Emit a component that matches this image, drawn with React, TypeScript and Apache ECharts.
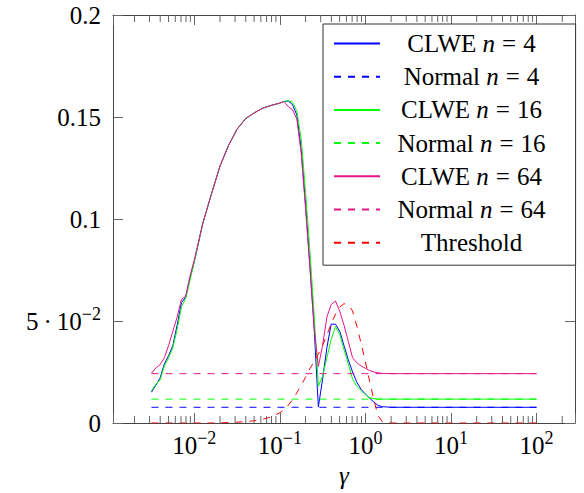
import React, { useEffect, useRef } from 'react';
import * as echarts from 'echarts';

const gamma = [
  0.00316, 0.00355, 0.00398, 0.00447, 0.00501, 0.00562, 0.00631, 0.00708, 0.00794, 0.00891,
  0.01, 0.0126, 0.0158, 0.02, 0.0251, 0.0316, 0.0398, 0.0501, 0.0631, 0.0794,
  0.1, 0.112, 0.126, 0.141, 0.158, 0.178, 0.2, 0.224, 0.251, 0.282,
  0.316, 0.355, 0.398, 0.447, 0.501, 0.562, 0.631, 0.708, 0.794, 0.891,
  1, 1.12, 1.26, 1.41, 1.58, 2, 3.16, 10, 31.6, 100,
];

const clwe4 = [
  0.0151, 0.0185, 0.022, 0.029, 0.033, 0.038, 0.048, 0.059, 0.0618, 0.071,
  0.079, 0.098, 0.112, 0.126, 0.136, 0.144, 0.1492, 0.152, 0.1543, 0.1557,
  0.1568, 0.1576, 0.1578, 0.156, 0.151, 0.134, 0.107, 0.078, 0.048, 0.0078,
  0.0215, 0.037, 0.0485, 0.0484, 0.045, 0.038, 0.031, 0.025, 0.02, 0.0165,
  0.0142, 0.0122, 0.0102, 0.0086, 0.008, 0.0077, 0.0077, 0.0077, 0.0077, 0.0077,
];

const clwe16 = [
  0.0158, 0.019, 0.021, 0.028, 0.032, 0.037, 0.046, 0.057, 0.061, 0.07,
  0.079, 0.098, 0.112, 0.126, 0.136, 0.144, 0.1492, 0.152, 0.1543, 0.1557,
  0.1568, 0.1576, 0.158, 0.1572, 0.153, 0.139, 0.113, 0.085, 0.054, 0.018,
  0.023, 0.032, 0.041, 0.0472, 0.0435, 0.036, 0.029, 0.0215, 0.018, 0.016,
  0.0138, 0.0124, 0.0119, 0.0117, 0.0117, 0.0117, 0.0117, 0.0117, 0.0117, 0.0117,
];

const clwe64 = [
  0.0244, 0.027, 0.0286, 0.032, 0.038, 0.045, 0.052, 0.0606, 0.0622, 0.072,
  0.08, 0.098, 0.112, 0.126, 0.136, 0.144, 0.1492, 0.152, 0.1543, 0.1557,
  0.1568, 0.1576, 0.155, 0.1535, 0.149, 0.132, 0.105, 0.077, 0.047, 0.0277,
  0.038, 0.052, 0.058, 0.0598, 0.0548, 0.048, 0.04, 0.032, 0.0295, 0.028,
  0.0268, 0.0257, 0.025, 0.0246, 0.0243, 0.0242, 0.0242, 0.0242, 0.0242, 0.0242,
];

const threshold = [
  0, 0, 0, 0, 0, 0, 0, 0, 0, 0,
  0, 0, 0, 0.0001, 0.0002, 0.0004, 0.0007, 0.0011, 0.0018, 0.003,
  0.005, 0.0065, 0.0088, 0.0115, 0.0148, 0.0185, 0.0225, 0.0265, 0.03, 0.0338,
  0.038, 0.0432, 0.0485, 0.0533, 0.0568, 0.0585, 0.0578, 0.055, 0.0475, 0.039,
  0.03, 0.0205, 0.011, 0.0035, 0.0006, 0, 0, 0, 0, 0,
];

const normal4 = 0.0077;
const normal16 = 0.0117;
const normal64 = 0.0242;

const xMinorTicks = [
  0.002, 0.003, 0.004, 0.005, 0.006, 0.007, 0.008, 0.009,
  0.02, 0.03, 0.04, 0.05, 0.06, 0.07, 0.08, 0.09,
  0.2, 0.3, 0.4, 0.5, 0.6, 0.7, 0.8, 0.9,
  2, 3, 4, 5, 6, 7, 8, 9,
  20, 30, 40, 50, 60, 70, 80, 90,
  200,
];

const yTickLabels: Record<string, string> = {
  '0': '{b|0}',
  '0.05': '{b|5}{d|·}{b|10}{s|−2}',
  '0.1': '{b|0.1}',
  '0.15': '{b|0.15}',
  '0.2': '{b|0.2}',
};

const seriesNames = [
  'CLWE n = 4',
  'Normal n = 4',
  'CLWE n = 16',
  'Normal n = 16',
  'CLWE n = 64',
  'Normal n = 64',
  'Threshold',
];

const FONT = "'Liberation Serif', 'DejaVu Serif', serif";
const BLUE = '#0000ff';
const GREEN = '#00ff00';
const MAGENTA = '#e6168a';
const RED = '#ff0000';
const AXIS = '#444';
const TICK = '#666';

const X_MIN = 0.001122;
const X_MAX = 281.8;

export default function App() {
  const ref = useRef<HTMLDivElement>(null);

  useEffect(() => {
    if (!ref.current) return;
    const chart = echarts.init(ref.current, undefined, { renderer: 'svg' });

    const pairs = (vals: number[]) => gamma.map((g, i) => [g, vals[i]]);
    const flat = (v: number) => gamma.map((g) => [g, v]);

    const line = (name: string, data: number[][], color: string, dashed: boolean, z: number) => ({
      type: 'line',
      name,
      data,
      symbol: 'none',
      showSymbol: false,
      silent: true,
      z,
      itemStyle: { color },
      lineStyle: { color, width: 1, type: dashed ? [7, 7] : 'solid' },
    });

    const richBase = {
      b: { fontFamily: FONT, fontSize: 25, color: '#000', lineHeight: 32 },
      d: { fontFamily: FONT, fontSize: 25, color: '#000', lineHeight: 32, padding: [0, 5, 0, 5] },
      s: { fontFamily: FONT, fontSize: 18, color: '#000', lineHeight: 18, verticalAlign: 'top' },
    };

    const legendRich = {
      t: { fontFamily: FONT, fontSize: 25, color: '#000', lineHeight: 24, align: 'center' },
      i: { fontFamily: FONT, fontSize: 25, fontStyle: 'italic', color: '#000', lineHeight: 24, align: 'center' },
      e: { fontFamily: FONT, fontSize: 25, color: '#000', lineHeight: 24, align: 'center', padding: [0, 7, 0, 7] },
    };

    const option: any = {
      animation: false,
      backgroundColor: '#fff',
      grid: { left: 113, right: 9, top: 15, bottom: 68, containLabel: false },
      xAxis: [
        {
          type: 'log',
          logBase: 10,
          min: X_MIN,
          max: X_MAX,
          position: 'bottom',
          name: 'γ',
          nameLocation: 'middle',
          nameGap: 40,
          nameTextStyle: { fontFamily: FONT, fontStyle: 'italic', fontSize: 25, color: '#000' },
          axisLine: { show: true, onZero: false, lineStyle: { color: AXIS, width: 1 } },
          axisTick: { show: true, inside: true, length: 10, lineStyle: { color: TICK, width: 1 } },
          splitLine: { show: false },
          minorTick: { show: false },
          axisLabel: {
            margin: 6,
            formatter: (v: number) => {
              const e = Math.log10(v);
              const r = Math.round(e);
              if (Math.abs(e - r) > 1e-6) return '';
              return `{b|10}{s|${r < 0 ? '−' + -r : r}}`;
            },
            rich: richBase,
          },
        },
        {
          type: 'log',
          logBase: 10,
          min: X_MIN,
          max: X_MAX,
          position: 'top',
          axisLine: { show: true, onZero: false, lineStyle: { color: AXIS, width: 1 } },
          axisTick: { show: true, inside: true, length: 10, lineStyle: { color: TICK, width: 1 } },
          splitLine: { show: false },
          axisLabel: { show: false },
        },
      ],
      yAxis: [
        {
          type: 'value',
          min: 0,
          max: 0.2,
          interval: 0.05,
          position: 'left',
          axisLine: { show: true, onZero: false, lineStyle: { color: AXIS, width: 1 } },
          axisTick: { show: true, inside: true, length: 10, lineStyle: { color: TICK, width: 1 } },
          splitLine: { show: false },
          axisLabel: {
            margin: 12,
            formatter: (v: number) => yTickLabels[String(+v.toFixed(2))] ?? '',
            rich: richBase,
          },
        },
        {
          type: 'value',
          min: 0,
          max: 0.2,
          interval: 0.05,
          position: 'right',
          axisLine: { show: true, onZero: false, lineStyle: { color: AXIS, width: 1 } },
          axisTick: { show: true, inside: true, length: 10, lineStyle: { color: TICK, width: 1 } },
          splitLine: { show: false },
          axisLabel: { show: false },
        },
      ],
      legend: {
        data: seriesNames,
        orient: 'vertical',
        left: 323,
        top: 24,
        padding: [7, 30, 10, 10],
        itemGap: 8.2,
        itemWidth: 46,
        itemHeight: 14,
        backgroundColor: '#fff',
        borderColor: '#333',
        borderWidth: 1,
        borderRadius: 0,
        selectedMode: false,
        itemStyle: { opacity: 0, borderWidth: 0 },
        textStyle: { width: 173, fontFamily: FONT, fontSize: 25, color: '#000', rich: legendRich },
        formatter: (name: string) => {
          const m = name.match(/^(\w+) n = (\d+)$/);
          if (!m) return `{t|${name}}`;
          return `{t|${m[1]} }{i|n}{e|=}{t|${m[2]}}`;
        },
      },
      series: [
        line(seriesNames[0], pairs(clwe4), BLUE, false, 2),
        line(seriesNames[1], flat(normal4), BLUE, true, 2),
        line(seriesNames[2], pairs(clwe16), GREEN, false, 2),
        line(seriesNames[3], flat(normal16), GREEN, true, 2),
        line(seriesNames[4], pairs(clwe64), MAGENTA, false, 2),
        line(seriesNames[5], flat(normal64), MAGENTA, true, 2),
        line(seriesNames[6], pairs(threshold), RED, true, 2),
        {
          type: 'custom',
          name: 'minorTicks',
          silent: true,
          z: 3,
          xAxisIndex: 0,
          yAxisIndex: 0,
          data: xMinorTicks.map((v) => [v, 0]),
          encode: { x: 0, y: 1 },
          renderItem: (_params: any, api: any) => {
            const x = api.value(0);
            const pb = api.coord([x, 0]);
            const pt = api.coord([x, 0.2]);
            const style = { stroke: TICK, lineWidth: 1 };
            return {
              type: 'group',
              children: [
                { type: 'line', shape: { x1: pb[0], y1: pb[1], x2: pb[0], y2: pb[1] - 7 }, style },
                { type: 'line', shape: { x1: pt[0], y1: pt[1], x2: pt[0], y2: pt[1] + 7 }, style },
              ],
            };
          },
        },
      ],
    };

    chart.setOption(option);
    return () => chart.dispose();
  }, []);

  return (
    <div
      ref={ref}
      style={{ position: 'absolute', left: 0, top: 0, width: 584, height: 493 }}
    />
  );
}
